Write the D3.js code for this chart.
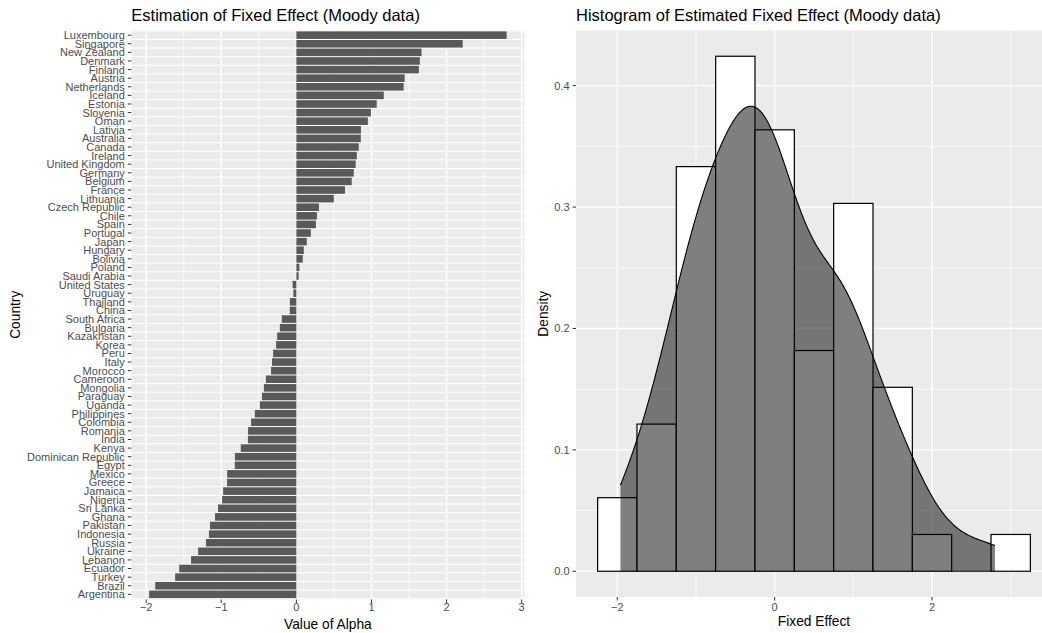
<!DOCTYPE html>
<html><head><meta charset="utf-8">
<script src="https://cdn.jsdelivr.net/npm/d3@7"></script>
<style>
body{margin:0;background:#fff}
svg{display:block}
text{font-family:"Liberation Sans",Arial,Helvetica,sans-serif}
</style>
</head><body>
<svg id="chart" width="1042" height="633"></svg>
<script>
// ---------- DATA ----------
const countries = ["Luxembourg","Singapore","New Zealand","Denmark","Finland","Austria","Netherlands","Iceland","Estonia","Slovenia","Oman","Lativia","Australia","Canada","Ireland","United Kingdom","Germany","Belgium","France","Lithuania","Czech Republic","Chile","Spain","Portugal","Japan","Hungary","Bolivia","Poland","Saudi Arabia","United States","Uruguay","Thailand","China","South Africa","Bulgaria","Kazakhstan","Korea","Peru","Italy","Morocco","Cameroon","Mongolia","Paraguay","Uganda","Philippines","Colombia","Romania","India","Kenya","Dominican Republic","Egypt","Mexico","Greece","Jamaica","Nigeria","Sri Lanka","Ghana","Pakistan","Indonesia","Russia","Ukraine","Lebanon","Ecuador","Turkey","Brazil","Argentina"];
const alphaValues = [2.80,2.215,1.667,1.644,1.631,1.442,1.429,1.164,1.07,0.993,0.952,0.86,0.858,0.831,0.805,0.79,0.764,0.737,0.647,0.498,0.301,0.274,0.26,0.193,0.139,0.099,0.085,0.04,0.03,-0.05,-0.04,-0.086,-0.088,-0.194,-0.22,-0.256,-0.27,-0.31,-0.324,-0.337,-0.405,-0.432,-0.458,-0.486,-0.553,-0.603,-0.643,-0.645,-0.74,-0.818,-0.82,-0.921,-0.923,-0.975,-0.989,-1.043,-1.083,-1.15,-1.164,-1.204,-1.308,-1.402,-1.56,-1.614,-1.879,-1.96];
const histBreaks = [-2.25,-1.75,-1.25,-0.75,-0.25,0.25,0.75,1.25,1.75,2.25,2.75,3.25];
const leftXTicks = [-2,-1,0,1,2,3];
const leftXMinor = [-1.5,-0.5,0.5,1.5,2.5];
const rightXTicks = [-2,0,2];
const rightXMinor = [-1,1,3];
const rightYTicks = [0,0.1,0.2,0.3,0.4];
const rightYMinor = [0.05,0.15,0.25,0.35];

const svg = d3.select("#chart");
const fmtMinus = d => String(d).replace("-", "\u2212");
const BG = "#EBEBEB", AXT = "#4D4D4D", TICK = "#333333";

// ---------- LEFT PANEL ----------
const L = {x0:131.3, x1:524.5, y0:30, y1:599.5};
const lmin = Math.min(0, d3.min(alphaValues)), lmax = Math.max(0, d3.max(alphaValues));
const lexp = (lmax - lmin) * 0.05;
const xL = d3.scaleLinear().domain([lmin - lexp, lmax + lexp]).range([L.x0, L.x1]);
const yL = d3.scaleBand().domain(countries).range([L.y0, L.y1]).paddingInner(0).paddingOuter(0.1);
const gL = svg.append("g");
gL.append("rect").attr("x",L.x0).attr("y",L.y0).attr("width",L.x1-L.x0).attr("height",L.y1-L.y0).attr("fill",BG);
// horizontal grid at band boundaries
const hb = countries.map(c => yL(c)).concat([yL(countries[countries.length-1]) + yL.bandwidth()]);
gL.selectAll(".hg").data(hb).join("line").attr("x1",L.x0).attr("x2",L.x1)
  .attr("y1",d=>d).attr("y2",d=>d).attr("stroke","#fff").attr("stroke-width",1);
gL.selectAll(".vmin").data(leftXMinor).join("line").attr("x1",d=>xL(d)).attr("x2",d=>xL(d))
  .attr("y1",L.y0).attr("y2",L.y1).attr("stroke","#fff").attr("stroke-width",0.7);
gL.selectAll(".vmaj").data(leftXTicks).join("line").attr("x1",d=>xL(d)).attr("x2",d=>xL(d))
  .attr("y1",L.y0).attr("y2",L.y1).attr("stroke","#fff").attr("stroke-width",1.3);
// bars
const barH = yL.bandwidth()*0.88;
gL.selectAll(".bar").data(countries).join("rect")
  .attr("x",(c,i)=>xL(Math.min(0,alphaValues[i])))
  .attr("width",(c,i)=>Math.abs(xL(alphaValues[i])-xL(0)))
  .attr("y",c=>yL(c)+(yL.bandwidth()-barH)/2)
  .attr("height",barH).attr("fill","#595959");
// y axis
gL.selectAll(".yt").data(countries).join("line")
  .attr("x1",L.x0-3.5).attr("x2",L.x0).attr("y1",c=>yL(c)+yL.bandwidth()/2).attr("y2",c=>yL(c)+yL.bandwidth()/2)
  .attr("stroke",TICK).attr("stroke-width",1);
gL.selectAll(".yl").data(countries).join("text")
  .attr("x",L.x0-6.5).attr("y",c=>yL(c)+yL.bandwidth()/2).attr("dy","0.36em")
  .attr("text-anchor","end").attr("font-size",11).attr("fill",AXT).text(c=>c);
// x axis
gL.selectAll(".xt").data(leftXTicks).join("line")
  .attr("x1",d=>xL(d)).attr("x2",d=>xL(d)).attr("y1",L.y1).attr("y2",L.y1+3.5)
  .attr("stroke",TICK).attr("stroke-width",1);
gL.selectAll(".xl").data(leftXTicks).join("text")
  .attr("x",d=>xL(d)).attr("y",610.5).attr("text-anchor","middle").attr("font-size",11).attr("fill",AXT).text(fmtMinus);
gL.append("text").attr("x",(L.x0+L.x1)/2).attr("y",628.5).attr("text-anchor","middle").attr("font-size",13.75).attr("fill","#000").text("Value of Alpha");
gL.append("text").attr("transform",`translate(20,${(L.y0+L.y1)/2}) rotate(-90)`).attr("text-anchor","middle").attr("font-size",13.75).attr("fill","#000").text("Country");
gL.append("text").attr("x",L.x0).attr("y",21).attr("font-size",16.5).attr("fill","#000").text("Estimation of Fixed Effect (Moody data)");

// ---------- RIGHT PANEL ----------
const R = {x0:576, x1:1052, y0:30.5, y1:597};
const bins = d3.bin().domain([histBreaks[0], histBreaks[histBreaks.length-1]]).thresholds(histBreaks.slice(1,-1))(alphaValues);
const n = alphaValues.length;
const binDens = bins.map(b => ({x0:b.x0, x1:b.x1, d:b.length/(n*(b.x1-b.x0))}));
// kernel density (Gaussian, bw.nrd0), evaluated over data range as ggplot does
const sorted = alphaValues.slice().sort(d3.ascending);
const sdv = d3.deviation(alphaValues);
const iqr = d3.quantile(sorted,0.75) - d3.quantile(sorted,0.25);
const bw = 0.9 * Math.min(sdv, iqr/1.34) * Math.pow(n, -0.2);
const dmin = sorted[0], dmax = sorted[n-1];
const grid = d3.range(512).map(i => dmin + i*(dmax-dmin)/511);
const dens = grid.map(g => ({x:g, y:d3.sum(alphaValues, v => Math.exp(-0.5*((g-v)/bw)**2))/(n*bw*Math.sqrt(2*Math.PI))}));

const hxmin = histBreaks[0], hxmax = histBreaks[histBreaks.length-1];
const hxe = (hxmax-hxmin)*0.05;
const xR = d3.scaleLinear().domain([hxmin-hxe, hxmax+hxe]).range([R.x0, R.x1]);
const ymax = Math.max(d3.max(binDens,b=>b.d), d3.max(dens,d=>d.y));
const xye = ymax*0.05;
const yR = d3.scaleLinear().domain([-xye, ymax+xye]).range([R.y1, R.y0]);
const gR = svg.append("g");
gR.append("rect").attr("x",R.x0).attr("y",R.y0).attr("width",R.x1-R.x0).attr("height",R.y1-R.y0).attr("fill",BG);
gR.selectAll(".hmin").data(rightYMinor).join("line").attr("x1",R.x0).attr("x2",R.x1)
  .attr("y1",d=>yR(d)).attr("y2",d=>yR(d)).attr("stroke","#fff").attr("stroke-width",0.7);
gR.selectAll(".vmin").data(rightXMinor).join("line").attr("x1",d=>xR(d)).attr("x2",d=>xR(d))
  .attr("y1",R.y0).attr("y2",R.y1).attr("stroke","#fff").attr("stroke-width",0.7);
gR.selectAll(".hmaj").data(rightYTicks).join("line").attr("x1",R.x0).attr("x2",R.x1)
  .attr("y1",d=>yR(d)).attr("y2",d=>yR(d)).attr("stroke","#fff").attr("stroke-width",1.3);
gR.selectAll(".vmaj").data(rightXTicks).join("line").attr("x1",d=>xR(d)).attr("x2",d=>xR(d))
  .attr("y1",R.y0).attr("y2",R.y1).attr("stroke","#fff").attr("stroke-width",1.3);
// histogram
gR.selectAll(".hb").data(binDens.filter(b=>b.d>0)).join("rect")
  .attr("x",b=>xR(b.x0)).attr("width",b=>xR(b.x1)-xR(b.x0))
  .attr("y",b=>yR(b.d)).attr("height",b=>yR(0)-yR(b.d))
  .attr("fill","#fff").attr("stroke","#000").attr("stroke-width",1.2);
// zero-height bin baseline
gR.selectAll(".hz").data(binDens.filter(b=>b.d===0)).join("line")
  .attr("x1",b=>xR(b.x0)).attr("x2",b=>xR(b.x1)).attr("y1",yR(0)).attr("y2",yR(0))
  .attr("stroke","#000").attr("stroke-width",1.2);
// density
gR.append("path").datum(dens)
  .attr("d", d3.area().x(d=>xR(d.x)).y0(yR(0)).y1(d=>yR(d.y)))
  .attr("fill","#000").attr("fill-opacity",0.5);
gR.append("path").datum(dens)
  .attr("d", d3.line().x(d=>xR(d.x)).y(d=>yR(d.y)))
  .attr("fill","none").attr("stroke","#000").attr("stroke-width",1.1);
// axes
gR.selectAll(".yt").data(rightYTicks).join("line")
  .attr("x1",R.x0-3.5).attr("x2",R.x0).attr("y1",d=>yR(d)).attr("y2",d=>yR(d)).attr("stroke",TICK).attr("stroke-width",1);
gR.selectAll(".yl").data(rightYTicks).join("text")
  .attr("x",R.x0-6.5).attr("y",d=>yR(d)).attr("dy","0.36em").attr("text-anchor","end")
  .attr("font-size",11).attr("fill",AXT).text(d=>d3.format(".1f")(d));
gR.selectAll(".xt").data(rightXTicks).join("line")
  .attr("x1",d=>xR(d)).attr("x2",d=>xR(d)).attr("y1",R.y1).attr("y2",R.y1+3.5).attr("stroke",TICK).attr("stroke-width",1);
gR.selectAll(".xl").data(rightXTicks).join("text")
  .attr("x",d=>xR(d)).attr("y",610.5).attr("text-anchor","middle").attr("font-size",11).attr("fill",AXT).text(fmtMinus);
gR.append("text").attr("x",(R.x0+R.x1)/2).attr("y",626).attr("text-anchor","middle").attr("font-size",13.75).attr("fill","#000").text("Fixed Effect");
gR.append("text").attr("transform",`translate(548,${(R.y0+R.y1)/2}) rotate(-90)`).attr("text-anchor","middle").attr("font-size",13.75).attr("fill","#000").text("Density");
gR.append("text").attr("x",R.x0).attr("y",21).attr("font-size",16.5).attr("fill","#000").text("Histogram of Estimated Fixed Effect (Moody data)");
</script>
</body></html>
